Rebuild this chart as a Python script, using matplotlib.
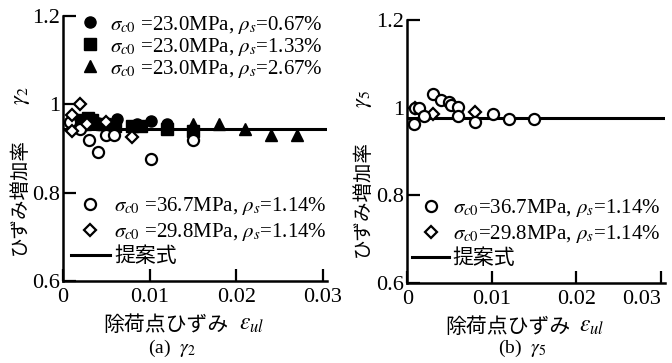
import matplotlib
matplotlib.use('Agg')
import matplotlib.pyplot as plt

plt.rcParams['font.family'] = ['Liberation Serif', 'Noto Sans CJK JP']
plt.rcParams['mathtext.fontset'] = 'stix'

# (a) gamma_2
a_c067_x = [0.0015, 0.0022, 0.003, 0.004, 0.0055, 0.0062, 0.0085, 0.0101, 0.012]
a_c067_y = [0.955, 0.960, 0.958, 0.957, 0.955, 0.966, 0.955, 0.963, 0.955]
a_s133_x = [0.002, 0.0029, 0.0033, 0.0047, 0.006, 0.008, 0.009, 0.012, 0.015]
a_s133_y = [0.965, 0.970, 0.965, 0.955, 0.950, 0.952, 0.952, 0.945, 0.940]
a_t267_x = [0.0025, 0.0045, 0.015, 0.018, 0.021, 0.024, 0.027]
a_t267_y = [0.955, 0.955, 0.955, 0.955, 0.945, 0.930, 0.930]
a_o367_x = [0.0008, 0.0019, 0.003, 0.004, 0.005, 0.0059, 0.0101, 0.015]
a_o367_y = [0.960, 0.943, 0.920, 0.893, 0.930, 0.930, 0.876, 0.920]
a_d298_x = [0.0019, 0.001, 0.001, 0.0028, 0.005, 0.008]
a_d298_y = [1.000, 0.975, 0.940, 0.955, 0.960, 0.927]
a_prop = 0.945

# (b) gamma_5
b_o367_x = [0.0009, 0.0014, 0.0008, 0.002, 0.003, 0.004, 0.0049, 0.0052, 0.006, 0.006, 0.008, 0.0101, 0.012, 0.015]
b_o367_y = [1.000, 1.000, 0.963, 0.982, 1.032, 1.018, 1.014, 1.005, 1.002, 0.982, 0.968, 0.986, 0.975, 0.975]
b_d298_x = [0.0009, 0.003, 0.008]
b_d298_y = [1.000, 0.986, 0.990]
b_prop = 0.977

xticks = [0, 0.01, 0.02, 0.03]
xticklabels = ['0', '0.01', '0.02', '0.03']
yticks = [0.6, 0.8, 1.0, 1.2]
yticklabels = ['0.6', '0.8', '1', '1.2']

jp = 'Noto Sans CJK JP'

fig = plt.figure(figsize=(6.72, 3.63), dpi=100)
ax1 = fig.add_axes([0.094, 0.226, 0.393, 0.730])
ax2 = fig.add_axes([0.606, 0.220, 0.384, 0.725])

ms = 8
for ax in (ax1, ax2):
    ax.set_xlim(0, 0.0305)
    ax.set_ylim(0.6, 1.2)
    ax.set_xticks(xticks)
    ax.set_xticklabels(xticklabels)
    ax.set_yticks(yticks)
    ax.set_yticklabels(yticklabels)
    ax.spines['top'].set_visible(False)
    ax.spines['right'].set_visible(False)
    ax.spines['left'].set_linewidth(1.8)
    ax.spines['bottom'].set_linewidth(1.8)
    ax.tick_params(direction='in', length=9, width=1.6, labelsize=16, pad=2)
    ax.tick_params(axis='x', pad=5)

ax2.get_xticklabels()[-1].set_ha('right')
ax2.get_xticklabels()[-1].set_x(0.0307)

# left panel
ax1.axhline(a_prop, color='black', lw=2.2, zorder=2)
h1, = ax1.plot(a_c067_x, a_c067_y, 'o', color='black', ms=ms, ls='none', zorder=3)
h2, = ax1.plot(a_s133_x, a_s133_y, 's', color='black', ms=ms, ls='none', zorder=3)
h3, = ax1.plot(a_t267_x, a_t267_y, '^', color='black', ms=ms, ls='none', zorder=3)
h4, = ax1.plot(a_o367_x, a_o367_y, 'o', mfc='white', mec='black', mew=1.6, ms=ms, ls='none', zorder=4)
h5, = ax1.plot(a_d298_x, a_d298_y, 'D', mfc='white', mec='black', mew=1.6, ms=6.5, ls='none', zorder=4)
hl, = ax1.plot([], [], color='black', lw=2.2)

leg1 = ax1.legend([h1, h2, h3],
                  [r'$\sigma_{c0}$ =23.0MPa, $\rho_s$=0.67%',
                   r'$\sigma_{c0}$ =23.0MPa, $\rho_s$=1.33%',
                   r'$\sigma_{c0}$ =23.0MPa, $\rho_s$=2.67%'],
                  loc='upper left', bbox_to_anchor=(0.05, 1.025), frameon=False,
                  prop={'size': 15}, handlelength=0.9, handletextpad=0.5, labelspacing=0.0,
                  borderaxespad=0, borderpad=0.2)
ax1.add_artist(leg1)
ax1.legend([h4, h5, hl],
           [r'$\sigma_{c0}$ =36.7MPa, $\rho_s$=1.14%',
            r'$\sigma_{c0}$ =29.8MPa, $\rho_s$=1.14%',
            '提案式'],
           loc='lower left', bbox_to_anchor=(0.02, 0.045), frameon=False,
           prop={'size': 15}, handlelength=1.9, handletextpad=0.2, labelspacing=0.2,
           borderaxespad=0, borderpad=0.1)

# right panel
ax2.axhline(b_prop, color='black', lw=2.2, zorder=2)
g4, = ax2.plot(b_o367_x, b_o367_y, 'o', mfc='white', mec='black', mew=1.6, ms=ms, ls='none', zorder=4)
g5, = ax2.plot(b_d298_x, b_d298_y, 'D', mfc='white', mec='black', mew=1.6, ms=6.5, ls='none', zorder=3)
gl, = ax2.plot([], [], color='black', lw=2.2)
ax2.legend([g4, g5, gl],
           [r'$\sigma_{c0}$=36.7MPa, $\rho_s$=1.14%',
            r'$\sigma_{c0}$=29.8MPa, $\rho_s$=1.14%',
            '提案式'],
           loc='lower left', bbox_to_anchor=(0.01, 0.045), frameon=False,
           prop={'size': 15}, handlelength=1.8, handletextpad=0.15, labelspacing=0.2,
           borderaxespad=0, borderpad=0.1)

# axis labels (Japanese part and symbol part drawn separately)
for ax, sym, xoff in ((ax1, r'$\gamma_2$', -0.165), (ax2, r'$\gamma_5$', -0.175)):
    ax.text(xoff, 0.32, 'ひずみ増加率', family=jp, fontsize=14, rotation=90,
            ha='center', va='center', transform=ax.transAxes)
    ax.text(xoff + 0.01, 0.70, sym, fontsize=16, rotation=90,
            ha='center', va='center', transform=ax.transAxes)
    ax.text(0.39, -0.165, '除荷点ひずみ', family=jp, fontsize=15,
            ha='center', va='center', transform=ax.transAxes)
    ax.text(0.665, -0.165, r'$\varepsilon_{ul}$', fontsize=17,
            ha='left', va='center', transform=ax.transAxes)

fig.text(0.256, 0.012, r'(a)  $\gamma_2$', fontsize=14, ha='center', va='bottom')
fig.text(0.777, 0.012, r'(b)  $\gamma_5$', fontsize=14, ha='center', va='bottom')

fig.savefig('out.png', dpi=100)
